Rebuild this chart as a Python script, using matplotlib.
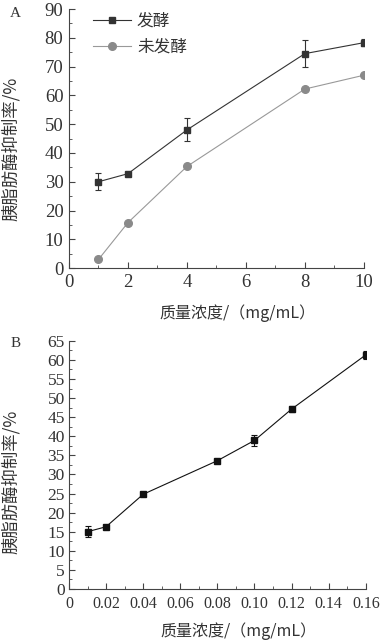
import matplotlib
matplotlib.use("Agg")
import matplotlib.pyplot as plt
from matplotlib.ticker import MultipleLocator
from matplotlib.lines import Line2D

plt.rcParams['font.family'] = ['Liberation Serif', 'Noto Sans CJK SC']
plt.rcParams['axes.unicode_minus'] = False

# Panel A data
conc_a = [1, 2, 4, 8, 10]
fermented = [30.0, 32.8, 48.0, 74.5, 78.3]
fermented_err = [3.0, 0.6, 4.0, 4.8, 1.3]
unfermented = [3.0, 15.8, 35.3, 62.2, 67.0]
labels_a = ['发酵', '未发酵']

# Panel B data
conc_b = [0.01, 0.02, 0.04, 0.08, 0.10, 0.12, 0.16]
inhib_b = [15.0, 16.3, 24.8, 33.6, 38.9, 47.1, 61.3]
inhib_b_err = [1.4, 0.5, 0.5, 0.4, 1.5, 0.7, 1.0]
xticks_b = [0, 0.02, 0.04, 0.06, 0.08, 0.10, 0.12, 0.14, 0.16]
xticklabels_b = ['0', '0.02', '0.04', '0.06', '0.08', '0.10', '0.12', '0.14', '0.16']

ylabel = '胰脂肪酶抑制率/%'
xlabel = '质量浓度/（mg/mL）'

cjk = ['Noto Sans CJK SC', 'Liberation Serif']

fig = plt.figure(figsize=(3.81, 6.43), dpi=100)
axA = fig.add_axes([0.181, 0.583, 0.774, 0.403])
axB = fig.add_axes([0.181, 0.084, 0.779, 0.386])

dark = '#333333'
grey = '#8a8a8a'

axA.errorbar(conc_a, fermented, yerr=fermented_err, color=dark, marker='s', ms=5,
             lw=0.8, elinewidth=0.8, capsize=2.5, capthick=0.8, zorder=3)
axA.plot(conc_a, unfermented, color='#999999', marker='o', ms=5.5, mfc=grey, mec=grey,
         lw=0.8, zorder=2)
axA.set_xlim(0, 10)
axA.set_ylim(0, 90)
axA.xaxis.set_major_locator(MultipleLocator(2))
axA.xaxis.set_minor_locator(MultipleLocator(1))
axA.yaxis.set_major_locator(MultipleLocator(10))
axA.yaxis.set_minor_locator(MultipleLocator(5))
handles = [Line2D([], [], color=dark, marker='s', ms=5, lw=0.8),
           Line2D([], [], color='#999999', marker='o', ms=5.5, mfc=grey, mec=grey, lw=0.8)]
axA.legend(handles, labels_a, loc='upper left', bbox_to_anchor=(0.03, 1.045), frameon=False,
           handlelength=2.3, handletextpad=0.35, labelspacing=0.55,
           prop={'family': cjk, 'size': 12}, labelcolor='#333333')

axB.errorbar(conc_b, inhib_b, yerr=inhib_b_err, color='#111111', marker='s', ms=5,
             lw=0.8, elinewidth=0.8, capsize=2.5, capthick=0.8)
axB.set_xlim(0, 0.16)
axB.set_ylim(0, 65)
axB.xaxis.set_minor_locator(MultipleLocator(0.01))
axB.yaxis.set_major_locator(MultipleLocator(5))
axB.yaxis.set_minor_locator(MultipleLocator(2.5))
axB.set_xticks(xticks_b)
axB.set_xticklabels(xticklabels_b)

for ax in (axA, axB):
    for s in ('top', 'right'):
        ax.spines[s].set_visible(False)
    for s in ('left', 'bottom'):
        ax.spines[s].set_color('#444444')
        ax.spines[s].set_linewidth(0.8)
    ax.tick_params(which='both', direction='in', colors='#444444', labelcolor='#333333')
    ax.tick_params(which='major', length=4, width=0.8)
    ax.tick_params(which='minor', length=2, width=0.6)
    ax.set_ylabel(ylabel, fontsize=12.5, color='#333333', family=cjk)
    ax.set_xlabel(xlabel, fontsize=11.5, color='#333333', family=cjk)

axA.tick_params(axis='both', labelsize=13.5, pad=4)
axB.tick_params(axis='y', labelsize=12.5, pad=3)
axB.tick_params(axis='x', labelsize=11.5, pad=5)

axA.yaxis.set_label_coords(-0.165, 0.46)
axA.xaxis.set_label_coords(0.57, -0.14)
axB.yaxis.set_label_coords(-0.165, 0.43)
axB.xaxis.set_label_coords(0.57, -0.135)

fig.text(0.027, 0.989, 'A', fontsize=11, color='#333333', va='top')
fig.text(0.027, 0.476, 'B', fontsize=11, color='#333333', va='top')

fig.savefig('out.png', dpi=100)
